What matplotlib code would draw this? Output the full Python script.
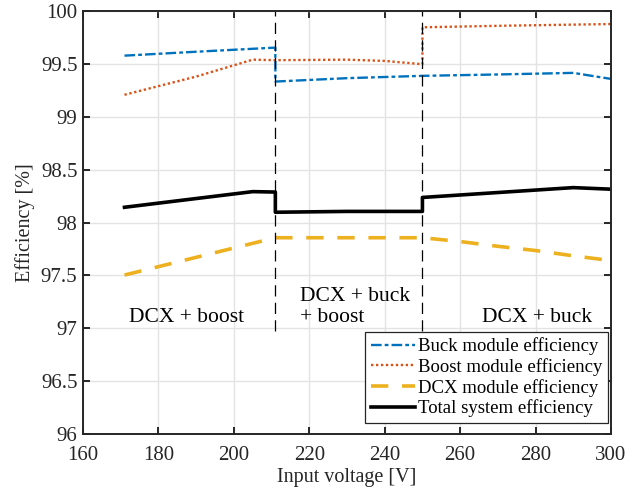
import matplotlib.pyplot as plt
from matplotlib.ticker import FuncFormatter

# efficiency vs input voltage, per module and for the whole system
buck_v = [171, 190, 211, 211, 230, 250, 270, 290, 300]
buck_eff = [99.578, 99.615, 99.654, 99.333, 99.365, 99.387, 99.40, 99.415, 99.358]

boost_v = [171, 190, 205, 211, 230, 240, 250, 250, 270, 300]
boost_eff = [99.208, 99.38, 99.54, 99.535, 99.54, 99.528, 99.497, 99.846, 99.86, 99.877]

dcx_v = [171, 211, 250, 260, 270, 280, 290, 300]
dcx_eff = [97.503, 97.856, 97.856, 97.82, 97.775, 97.735, 97.685, 97.64]

total_v = [171, 205, 211, 211, 230, 250, 250, 290, 300]
total_eff = [98.144, 98.292, 98.288, 98.097, 98.105, 98.105, 98.237, 98.33, 98.315]

mode_bounds = [211, 250]
mode_labels = ['DCX + boost', 'DCX + buck\n+ boost', 'DCX + buck']

plt.rcParams['font.family'] = ['Liberation Serif', 'DejaVu Serif']
plt.rcParams['font.size'] = 14.5

fig = plt.figure(figsize=(6.42, 4.92), dpi=100)
ax = fig.add_axes([0.1293, 0.1179, 0.8224, 0.8597])

ax.plot(buck_v, buck_eff, color='#0072BD', lw=1.7, ls=(0, (4.5, 1.3, 1.6, 1.3)),
        label='Buck module efficiency')
ax.plot(boost_v, boost_eff, color='#D95319', lw=1.7, ls=(0, (1, 1.1)),
        label='Boost module efficiency')
ax.plot(dcx_v, dcx_eff, color='#EDB120', lw=2.6, ls=(0, (4.8, 3.8)),
        label='DCX module efficiency')
ax.plot(total_v, total_eff, color='black', lw=2.6,
        label='Total system efficiency')

for xb in mode_bounds:
    ax.plot([xb, xb], [96.97, 100], color='black', lw=0.9, ls=(0, (9, 5)))

ax.text(187.5, 97.1, mode_labels[0], ha='center', va='center', fontsize=15.5)
ax.text(217.6, 97.2, mode_labels[1], ha='left', va='center', linespacing=1.1,
        fontsize=15.5)
ax.text(280.5, 97.1, mode_labels[2], ha='center', va='center', fontsize=15.5)

ax.set_xlim(160, 300)
ax.set_ylim(96, 100)
ax.set_xticks(range(160, 301, 20))
ax.set_yticks([96 + 0.5 * i for i in range(9)])
ax.yaxis.set_major_formatter(FuncFormatter(lambda v, p: f'{v:g}'))
ax.grid(True, color='#e3e3e3', lw=1)
ax.set_axisbelow(True)
ax.tick_params(direction='in', top=True, right=True, length=5, width=1.4,
               color='#262626', labelcolor='#262626', labelsize=15)
ax.tick_params(axis='x', pad=9)
ax.tick_params(axis='y', pad=4)
for s in ax.spines.values():
    s.set_linewidth(1.4)
    s.set_color('#262626')

ax.set_xlabel('Input voltage [V]', color='#262626', labelpad=2)
ax.set_ylabel('Efficiency [%]', color='#262626', labelpad=4)

leg = ax.legend(loc='lower right', bbox_to_anchor=(0.994, 0.026), fontsize=13.5,
                handlelength=2.35, handletextpad=0.15, labelspacing=0.15,
                borderpad=0.3, borderaxespad=0, fancybox=False, framealpha=1)
leg.get_frame().set_edgecolor('#262626')
leg.get_frame().set_linewidth(0.9)

fig.savefig('out.png', dpi=100)
